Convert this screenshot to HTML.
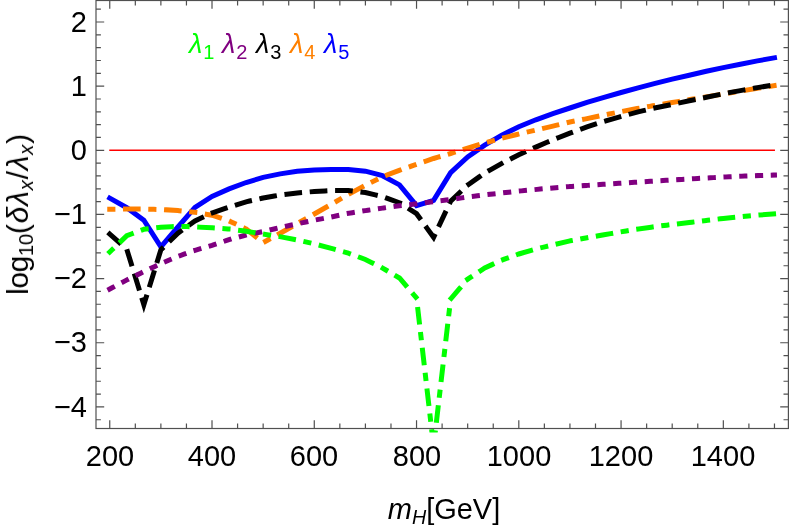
<!DOCTYPE html><html><head><meta charset="utf-8"><style>
html,body{margin:0;padding:0;background:#fff}
#p{position:relative;width:789px;height:530px;overflow:hidden;background:#fff;font-family:"Liberation Sans",sans-serif;color:#000}
.t{position:absolute;will-change:transform;font-size:30px;line-height:1;white-space:nowrap}
.xl{transform:translateX(-50%) scaleY(1.03);font-size:29px}
.yl{text-align:right;width:80px;transform:scaleY(1.03);font-size:29px}
sub{font-size:0.68em;vertical-align:baseline;position:relative;top:0.26em}
</style></head><body><div id="p">
<svg width="789" height="530" viewBox="0 0 789 530" style="position:absolute;left:0;top:0">
<defs><clipPath id="c"><rect x="96.0" y="-5" width="697.4" height="437.6"/></clipPath></defs>
<g clip-path="url(#c)" fill="none" stroke-linejoin="miter" stroke-miterlimit="10">
<path d="M109.75 198.10 L126.79 207.70 L143.84 220.20 L160.88 246.80 L177.93 227.00 L194.97 207.30 L212.01 196.40 L229.06 188.90 L246.10 182.50 L263.15 177.40 L280.19 173.90 L297.23 171.30 L314.28 169.90 L331.32 169.60 L348.37 169.40 L365.41 171.20 L382.45 175.70 L399.50 184.90 L416.54 205.70 L433.59 200.30 L450.63 172.70 L467.67 157.00 L484.72 145.10 L501.76 135.20 L518.81 126.80 L535.85 119.80 L552.89 113.60 L569.94 108.00 L586.98 102.30 L604.03 97.30 L621.07 92.50 L638.11 87.80 L655.16 83.30 L672.20 79.10 L689.25 75.20 L706.29 71.30 L723.33 67.60 L740.38 64.20 L757.42 60.90 L774.47 57.80" stroke="#0000ff" stroke-width="5.0" stroke-linecap="square"/>
<path d="M109.75 209.20 L126.79 209.10 L143.84 209.10 L160.88 209.50 L177.93 210.60 L194.97 212.30 L212.01 215.20 L229.06 220.90 L246.10 228.90 L263.15 242.60 L280.19 233.20 L297.23 223.60 L314.28 214.00 L331.32 204.30 L348.37 194.40 L365.41 185.20 L382.45 176.80 L399.50 170.30 L416.54 164.30 L433.59 158.50 L450.63 153.50 L467.67 148.10 L484.72 142.90 L501.76 138.30 L518.81 134.00 L535.85 130.10 L552.89 126.10 L569.94 122.00 L586.98 118.60 L604.03 115.00 L621.07 111.60 L638.11 108.40 L655.16 105.40 L672.20 102.50 L689.25 99.70 L706.29 96.90 L723.33 94.00 L740.38 91.00 L757.42 88.30 L774.47 85.60" stroke="#ff8000" stroke-width="5.0" stroke-linecap="square" stroke-dasharray="3.16 12.62 12.62 12.62"/>
<path d="M109.75 234.00 L126.79 249.30 L143.84 304.70 L160.88 249.80 L177.93 233.10 L194.97 221.00 L212.01 213.00 L229.06 207.10 L246.10 201.80 L263.15 198.00 L280.19 195.00 L297.23 192.90 L314.28 191.50 L331.32 190.60 L348.37 190.60 L365.41 192.50 L382.45 196.60 L399.50 202.80 L416.54 213.70 L433.59 237.30 L450.63 201.20 L467.67 185.00 L484.72 173.00 L501.76 163.40 L518.81 154.80 L535.85 147.10 L552.89 139.80 L569.94 133.20 L586.98 126.90 L604.03 121.40 L621.07 116.50 L638.11 111.90 L655.16 107.90 L672.20 104.40 L689.25 100.80 L706.29 97.30 L723.33 93.70 L740.38 90.60 L757.42 87.60 L774.47 84.90" stroke="#000000" stroke-width="5.0" stroke-linecap="square" stroke-dasharray="12.7 12.7"/>
<path d="M109.75 289.00 L126.79 280.00 L143.84 271.60 L160.88 263.60 L177.93 256.40 L194.97 250.30 L212.01 245.40 L229.06 239.70 L246.10 235.00 L263.15 231.50 L280.19 227.50 L297.23 223.80 L314.28 220.20 L331.32 217.00 L348.37 213.30 L365.41 210.60 L382.45 208.10 L399.50 205.80 L416.54 203.80 L433.59 201.60 L450.63 199.50 L467.67 197.00 L484.72 194.90 L501.76 193.00 L518.81 191.10 L535.85 189.50 L552.89 187.90 L569.94 186.50 L586.98 185.40 L604.03 184.30 L621.07 183.20 L638.11 182.10 L655.16 181.00 L672.20 180.00 L689.25 179.00 L706.29 178.00 L723.33 177.10 L740.38 176.30 L757.42 175.60 L774.47 175.00" stroke="#800080" stroke-width="5.0" stroke-linecap="square" stroke-dasharray="3.16 12.62"/>
<path d="M109.75 252.00 L126.79 235.70 L143.84 229.30 L160.88 227.20 L177.93 226.30 L194.97 226.90 L212.01 227.80 L229.06 229.00 L246.10 231.20 L263.15 234.10 L280.19 236.70 L297.23 240.00 L314.28 243.80 L331.32 248.40 L348.37 253.20 L365.41 259.50 L382.45 268.00 L399.50 278.00 L416.54 298.00 L433.59 446.40 L450.63 299.00 L467.67 279.20 L484.72 268.00 L501.76 260.10 L518.81 254.00 L535.85 249.00 L552.89 244.90 L569.94 240.90 L586.98 237.80 L604.03 234.80 L621.07 231.80 L638.11 229.00 L655.16 226.60 L672.20 224.50 L689.25 222.50 L706.29 220.40 L723.33 218.50 L740.38 216.80 L757.42 215.20 L774.47 213.80" stroke="#00ff00" stroke-width="5.0" stroke-linecap="square" stroke-dasharray="3.16 12.62 12.62 12.62"/>
<path d="M109.25 150.3 L774.966 150.3" stroke="#ff0000" stroke-width="1.6"/>
</g>
<g stroke="#505050" stroke-width="1.2" fill="none">
<rect x="96.0" y="0.5" width="692.4" height="428.0"/>
<path d="M109.75 428.5 V420.30 M109.75 0.5 V8.70 M135.32 428.5 V423.60 M135.32 0.5 V5.40 M160.88 428.5 V423.60 M160.88 0.5 V5.40 M186.45 428.5 V423.60 M186.45 0.5 V5.40 M212.01 428.5 V420.30 M212.01 0.5 V8.70 M237.58 428.5 V423.60 M237.58 0.5 V5.40 M263.15 428.5 V423.60 M263.15 0.5 V5.40 M288.71 428.5 V423.60 M288.71 0.5 V5.40 M314.28 428.5 V420.30 M314.28 0.5 V8.70 M339.84 428.5 V423.60 M339.84 0.5 V5.40 M365.41 428.5 V423.60 M365.41 0.5 V5.40 M390.98 428.5 V423.60 M390.98 0.5 V5.40 M416.54 428.5 V420.30 M416.54 0.5 V8.70 M442.11 428.5 V423.60 M442.11 0.5 V5.40 M467.67 428.5 V423.60 M467.67 0.5 V5.40 M493.24 428.5 V423.60 M493.24 0.5 V5.40 M518.81 428.5 V420.30 M518.81 0.5 V8.70 M544.37 428.5 V423.60 M544.37 0.5 V5.40 M569.94 428.5 V423.60 M569.94 0.5 V5.40 M595.50 428.5 V423.60 M595.50 0.5 V5.40 M621.07 428.5 V420.30 M621.07 0.5 V8.70 M646.64 428.5 V423.60 M646.64 0.5 V5.40 M672.20 428.5 V423.60 M672.20 0.5 V5.40 M697.77 428.5 V423.60 M697.77 0.5 V5.40 M723.33 428.5 V420.30 M723.33 0.5 V8.70 M748.90 428.5 V423.60 M748.90 0.5 V5.40 M774.47 428.5 V423.60 M774.47 0.5 V5.40 M96.0 419.73 H100.90 M788.4 419.73 H783.50 M96.0 406.90 H104.20 M788.4 406.90 H780.20 M96.0 394.07 H100.90 M788.4 394.07 H783.50 M96.0 381.24 H100.90 M788.4 381.24 H783.50 M96.0 368.41 H100.90 M788.4 368.41 H783.50 M96.0 355.58 H100.90 M788.4 355.58 H783.50 M96.0 342.75 H104.20 M788.4 342.75 H780.20 M96.0 329.92 H100.90 M788.4 329.92 H783.50 M96.0 317.09 H100.90 M788.4 317.09 H783.50 M96.0 304.26 H100.90 M788.4 304.26 H783.50 M96.0 291.43 H100.90 M788.4 291.43 H783.50 M96.0 278.60 H104.20 M788.4 278.60 H780.20 M96.0 265.77 H100.90 M788.4 265.77 H783.50 M96.0 252.94 H100.90 M788.4 252.94 H783.50 M96.0 240.11 H100.90 M788.4 240.11 H783.50 M96.0 227.28 H100.90 M788.4 227.28 H783.50 M96.0 214.45 H104.20 M788.4 214.45 H780.20 M96.0 201.62 H100.90 M788.4 201.62 H783.50 M96.0 188.79 H100.90 M788.4 188.79 H783.50 M96.0 175.96 H100.90 M788.4 175.96 H783.50 M96.0 163.13 H100.90 M788.4 163.13 H783.50 M96.0 150.30 H104.20 M788.4 150.30 H780.20 M96.0 137.47 H100.90 M788.4 137.47 H783.50 M96.0 124.64 H100.90 M788.4 124.64 H783.50 M96.0 111.81 H100.90 M788.4 111.81 H783.50 M96.0 98.98 H100.90 M788.4 98.98 H783.50 M96.0 86.15 H104.20 M788.4 86.15 H780.20 M96.0 73.32 H100.90 M788.4 73.32 H783.50 M96.0 60.49 H100.90 M788.4 60.49 H783.50 M96.0 47.66 H100.90 M788.4 47.66 H783.50 M96.0 34.83 H100.90 M788.4 34.83 H783.50 M96.0 22.00 H104.20 M788.4 22.00 H780.20 M96.0 9.17 H100.90 M788.4 9.17 H783.50"/>
</g>
</svg>
<div class="t xl" style="left:109.8px;top:441.5px">200</div>
<div class="t xl" style="left:212.0px;top:441.5px">400</div>
<div class="t xl" style="left:314.3px;top:441.5px">600</div>
<div class="t xl" style="left:416.5px;top:441.5px">800</div>
<div class="t xl" style="left:518.8px;top:441.5px">1000</div>
<div class="t xl" style="left:621.1px;top:441.5px">1200</div>
<div class="t xl" style="left:723.3px;top:441.5px">1400</div>
<div class="t yl" style="left:6.6px;top:392.6px">−4</div>
<div class="t yl" style="left:6.6px;top:328.4px">−3</div>
<div class="t yl" style="left:6.6px;top:264.3px">−2</div>
<div class="t yl" style="left:6.6px;top:200.2px">−1</div>
<div class="t yl" style="left:6.6px;top:136.0px">0</div>
<div class="t yl" style="left:6.6px;top:71.9px">1</div>
<div class="t yl" style="left:6.6px;top:7.7px">2</div>
<div class="t" style="left:188.7px;top:30.8px;font-size:27px;color:#00ff00"><i>λ</i><sub style="font-size:20px;top:6.2px;margin-left:1px">1</sub></div>
<div class="t" style="left:222.4px;top:30.8px;font-size:27px;color:#800080"><i>λ</i><sub style="font-size:20px;top:6.2px;margin-left:1px">2</sub></div>
<div class="t" style="left:256.4px;top:30.8px;font-size:27px;color:#000"><i>λ</i><sub style="font-size:20px;top:6.2px;margin-left:1px">3</sub></div>
<div class="t" style="left:290.1px;top:30.8px;font-size:27px;color:#ff8000"><i>λ</i><sub style="font-size:20px;top:6.2px;margin-left:1px">4</sub></div>
<div class="t" style="left:323.8px;top:30.8px;font-size:27px;color:#0000ff"><i>λ</i><sub style="font-size:20px;top:6.2px;margin-left:1px">5</sub></div>
<div class="t" id="xt" style="left:443.5px;top:494.6px;font-size:29px;transform:translateX(-50%)"><i>m</i><sub><i>H</i></sub>[GeV]</div>
<div class="t" id="yt" style="left:18px;top:214.2px;letter-spacing:0.75px;transform:translate(-50%,-50%) rotate(-90deg)"><span style="letter-spacing:-0.4px">log<sub>10</sub></span>(<i>δλ</i><sub><i>x</i></sub>/<i>λ</i><sub><i>x</i></sub>)</div>
</div></body></html>
